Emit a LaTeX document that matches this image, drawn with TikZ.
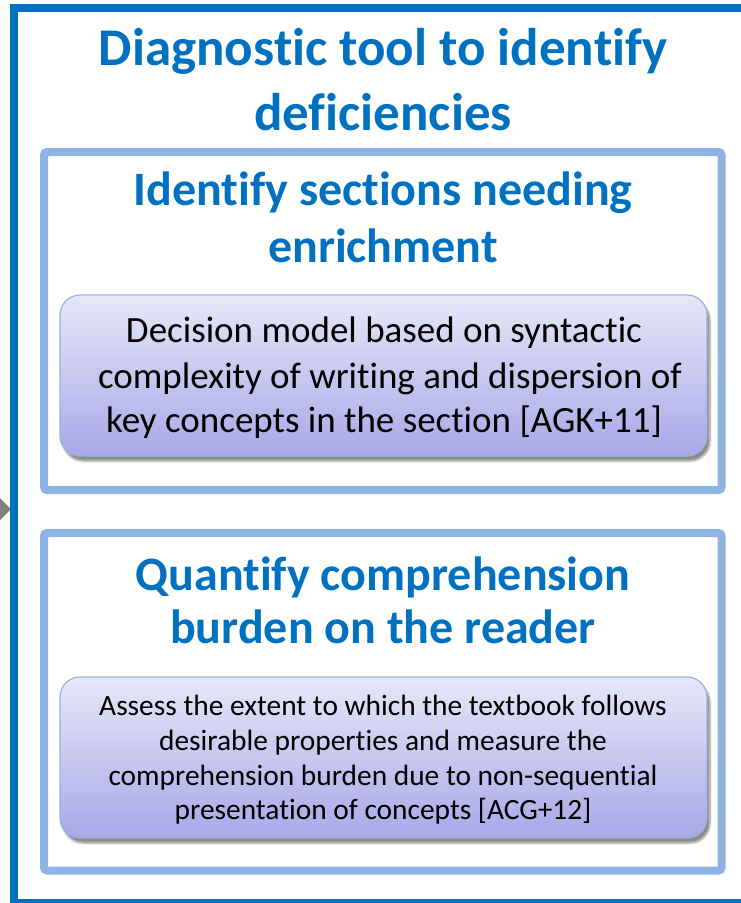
\documentclass[tikz,border=0pt]{standalone}
\usepackage{fontspec}
\setmainfont{Carlito}[Ligatures=NoCommon]
\usetikzlibrary{shadows.blur}
\definecolor{titleblue}{RGB}{0,112,192}
\definecolor{frameblue}{RGB}{142,180,227}
\definecolor{rimblue}{RGB}{149,179,215}
\definecolor{lavtop}{RGB}{231,231,248}
\definecolor{lavbot}{RGB}{168,168,232}
\definecolor{arrowgray}{RGB}{128,128,128}
\begin{document}
\begin{tikzpicture}[x=1pt,y=-1pt,
  ttl/.style={anchor=base,inner sep=0pt,text=titleblue,font=\fontsize{53}{60}\selectfont\bfseries},
  sub/.style={anchor=base,inner sep=0pt,text=titleblue,font=\fontsize{48}{56}\selectfont\bfseries},
  bodyA/.style={anchor=base,inner sep=0pt,text=black,font=\fontsize{37}{44}\selectfont},
  bodyB/.style={anchor=base,inner sep=0pt,text=black,font=\fontsize{29.4}{35}\selectfont},
  panel/.style={draw=frameblue,line width=8pt,rounded corners=3pt},
  lavbox/.style={draw=rimblue,line width=1.2pt,rounded corners=20pt,
     top color=lavtop,bottom color=lavbot,
     minimum width=647pt,inner sep=0pt,
     blur shadow={shadow xshift=3pt,shadow yshift=-5pt,shadow blur steps=6,shadow opacity=45}}
]
\useasboundingbox (0,0) rectangle (741,903);
\begin{scope}
\clip (0,0) rectangle (741,903);
% gray arrow at left
\fill[arrowgray] (-4,494) -- (11,509) -- (-4,524) -- cycle;
% outer frame
\draw[titleblue,line width=8pt] (14,8) rectangle (770,903);
% panels
\draw[panel] (44,152) rectangle (721.5,490);
\draw[panel] (44,533) rectangle (721.5,870.5);
\end{scope}
% lavender boxes
\node[lavbox,minimum height=161pt] (b1) at (383.5,375.5) {};
\node[lavbox,minimum height=161pt] (b2) at (383.5,757.5) {};
% title
\node[ttl] (t1) at (383,65) {Diagnostic tool to identify};
\node[ttl] (t2) at (383,130) {deficiencies};
% panel 1
\node[sub] (s1) at (383,205) {Identify sections needing};
\node[sub] (s2) at (383,262) {enrichment};
\node[bodyA] (a1) at (384,342) {Decision model based on syntactic};
\node[bodyA] (a2) at (390,388) {complexity of writing and dispersion of};
\node[bodyA] (a3) at (384,432) {key concepts in the section [AGK+11]};
% panel 2
\node[sub] (q1) at (383,590) {Quantify comprehension};
\node[sub] (q2) at (383,643) {burden on the reader};
\node[bodyB] (c1) at (383,715) {Assess the extent to which the textbook follows};
\node[bodyB] (c2) at (383,750) {desirable properties and measure the};
\node[bodyB] (c3) at (383,785) {comprehension burden due to non-sequential};
\node[bodyB] (c4) at (383,819) {presentation of concepts [ACG+12]};
\end{tikzpicture}
\end{document}
